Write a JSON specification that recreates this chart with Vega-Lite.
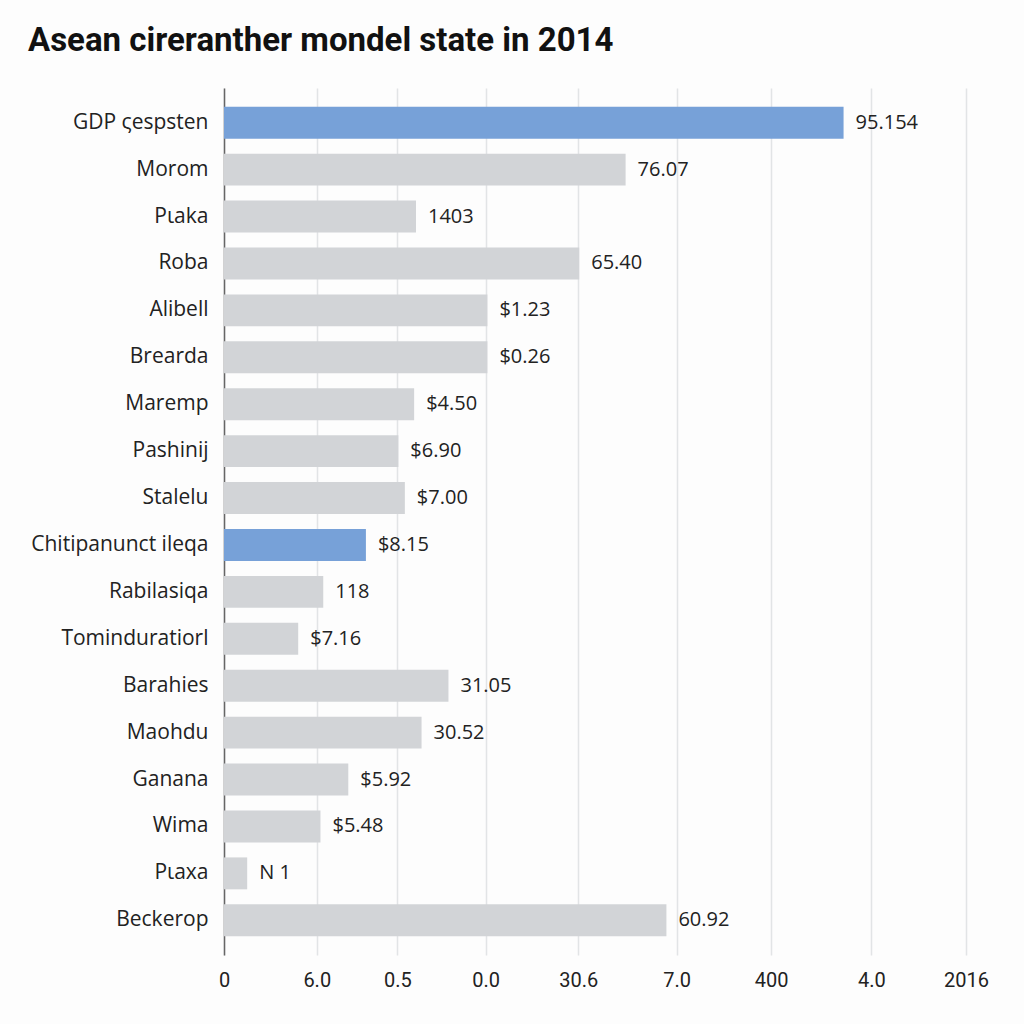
{
  "$schema": "https://vega.github.io/schema/vega-lite/v6.json",
  "autosize": "none",
  "width": 742,
  "height": 867,
  "padding": {"left": 224, "top": 88, "right": 58, "bottom": 69},
  "background": "#fdfdfd",
  "config": {"view": {"stroke": null}},
  "title": {
    "text": "Asean cireranther mondel state in 2014",
    "anchor": "start",
    "frame": "group",
    "dx": -196,
    "offset": 30,
    "font": "Roboto",
    "fontSize": 33,
    "fontWeight": "bold",
    "color": "#111111"
  },
  "data": {
    "values": [
      {"name": "GDP ςespsten", "value": 6.68, "label": "95.154", "hl": "yes"},
      {"name": "Morom", "value": 4.33, "label": "76.07", "hl": "no"},
      {"name": "Pιaka", "value": 2.07, "label": "1403", "hl": "no"},
      {"name": "Roba", "value": 3.83, "label": "65.40", "hl": "no"},
      {"name": "Alibell", "value": 2.84, "label": "$1.23", "hl": "no"},
      {"name": "Brearda", "value": 2.84, "label": "$0.26", "hl": "no"},
      {"name": "Maremp", "value": 2.05, "label": "$4.50", "hl": "no"},
      {"name": "Pashinij", "value": 1.88, "label": "$6.90", "hl": "no"},
      {"name": "Stalelu", "value": 1.95, "label": "$7.00", "hl": "no"},
      {"name": "Chitipanunct ileqa", "value": 1.53, "label": "$8.15", "hl": "yes"},
      {"name": "Rabilasiqa", "value": 1.07, "label": "118", "hl": "no"},
      {"name": "Tominduratiorl", "value": 0.8, "label": "$7.16", "hl": "no"},
      {"name": "Barahies", "value": 2.42, "label": "31.05", "hl": "no"},
      {"name": "Maohdu", "value": 2.13, "label": "30.52", "hl": "no"},
      {"name": "Ganana", "value": 1.34, "label": "$5.92", "hl": "no"},
      {"name": "Wima", "value": 1.04, "label": "$5.48", "hl": "no"},
      {"name": "Pιaxa", "value": 0.25, "label": "N 1", "hl": "no"},
      {"name": "Beckerop", "value": 4.77, "label": "60.92", "hl": "no"}
    ]
  },
  "encoding": {
    "y": {
      "field": "name",
      "type": "nominal",
      "sort": null,
      "scale": {"paddingInner": 0.32, "paddingOuter": 0.4},
      "axis": {
        "title": null,
        "ticks": false,
        "domain": true,
        "domainColor": "#666666",
        "domainWidth": 1.5,
        "labelFont": "Open Sans",
        "labelFontSize": 21,
        "labelColor": "#222222",
        "labelPadding": 16,
        "labelLimit": 300
      }
    },
    "x": {
      "field": "value",
      "type": "quantitative",
      "scale": {"domain": [0, 8], "nice": false, "zero": true},
      "axis": {
        "title": null,
        "values": [0, 1.0, 1.87, 2.82, 3.82, 4.88, 5.9, 6.98, 8.0],
        "labelExpr": "datum.value == 0 ? '0' : datum.value == 1 ? '6.0' : datum.value == 1.87 ? '0.5' : datum.value == 2.82 ? '0.0' : datum.value == 3.82 ? '30.6' : datum.value == 4.88 ? '7.0' : datum.value == 5.9 ? '400' : datum.value == 6.98 ? '4.0' : '2016'",
        "domain": false,
        "ticks": false,
        "grid": true,
        "gridColor": "#e2e4e6",
        "gridWidth": 1.5,
        "labelFont": "Roboto",
        "labelFontSize": 20,
        "labelColor": "#222222",
        "labelPadding": 15,
        "labelFlush": false
      }
    }
  },
  "layer": [
    {
      "mark": {"type": "bar"},
      "encoding": {
        "color": {
          "field": "hl",
          "type": "nominal",
          "scale": {"domain": ["yes", "no"], "range": ["#77a1d8", "#d2d4d7"]},
          "legend": null
        }
      }
    },
    {
      "mark": {"type": "text", "align": "left", "dx": 12, "font": "Open Sans", "fontSize": 20, "color": "#222222"},
      "encoding": {"text": {"field": "label"}}
    }
  ]
}
